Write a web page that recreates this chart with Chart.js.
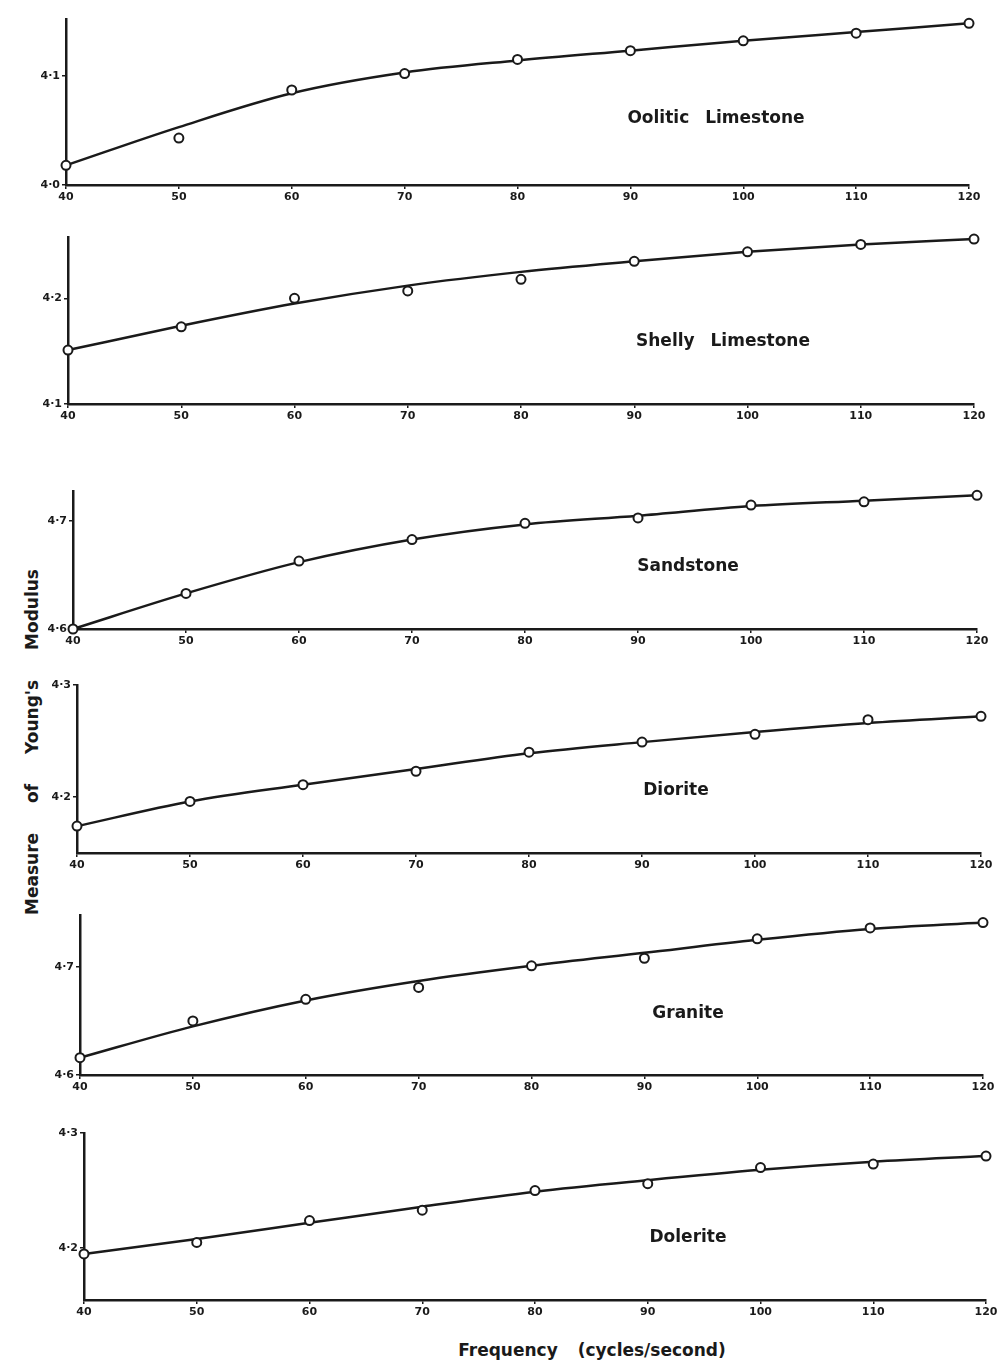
<html>
<head>
  <script src="https://cdn.jsdelivr.net/npm/chart.js"></script>
  <style>
    body { margin: 0; background: #fff; width: 1007px; height: 1368px; position: relative; overflow: hidden;
           font-family: 'DejaVu Sans', sans-serif; color: #1a1a1a; }
    canvas { position: absolute; left: 0; }
    .name { position: absolute; font-weight: bold; font-size: 17px; word-spacing: 10px;
            transform: translate(-50%, -50%); white-space: nowrap; }
    #ytitle { position: absolute; left: 32px; top: 742px; font-weight: bold; font-size: 17px; word-spacing: 24px;
              transform: translate(-50%, -50%) rotate(-90deg); white-space: nowrap; }
    #xtitle { position: absolute; left: 592px; top: 1350px; font-weight: bold; font-size: 17px; word-spacing: 14px;
              transform: translate(-50%, -50%); white-space: nowrap; }
  </style>
</head>
<body>
  <div id="ytitle">Measure of Young's Modulus</div>
  <div id="xtitle">Frequency (cycles/second)</div>
  <script>
    // frequency (cycles/second)
    const freq = [40, 50, 60, 70, 80, 90, 100, 110, 120];
    const rocks = ['Oolitic Limestone', 'Shelly Limestone', 'Sandstone', 'Diorite', 'Granite', 'Dolerite'];

    // measured points and drawn curve, per rock
    const oolitic      = [4.018, 4.043, 4.087, 4.102, 4.115, 4.123, 4.132, 4.139, 4.148];
    const ooliticCurve = [4.018, 4.053, 4.084, 4.103, 4.114, 4.123, 4.132, 4.140, 4.148];
    const shelly       = [4.151, 4.173, 4.200, 4.207, 4.218, 4.235, 4.244, 4.251, 4.256];
    const shellyCurve  = [4.151, 4.174, 4.195, 4.212, 4.225, 4.235, 4.244, 4.251, 4.256];
    const sandstone    = [4.600, 4.633, 4.663, 4.683, 4.698, 4.703, 4.715, 4.718, 4.724];
    const sandCurve    = [4.600, 4.633, 4.662, 4.683, 4.697, 4.705, 4.714, 4.719, 4.724];
    const diorite      = [4.174, 4.196, 4.211, 4.223, 4.240, 4.249, 4.256, 4.269, 4.272];
    const dioriteCurve = [4.174, 4.196, 4.211, 4.225, 4.239, 4.249, 4.258, 4.266, 4.272];
    const granite      = [4.616, 4.650, 4.670, 4.681, 4.701, 4.708, 4.726, 4.736, 4.741];
    const graniteCurve = [4.616, 4.645, 4.669, 4.687, 4.701, 4.713, 4.725, 4.735, 4.741];
    const dolerite     = [4.195, 4.205, 4.224, 4.233, 4.250, 4.256, 4.270, 4.273, 4.280];
    const doleriteCurve= [4.195, 4.208, 4.222, 4.236, 4.249, 4.259, 4.268, 4.275, 4.280];

    const points = [oolitic, shelly, sandstone, diorite, granite, dolerite];
    const curves = [ooliticCurve, shellyCurve, sandCurve, dioriteCurve, graniteCurve, doleriteCurve];

    // y axis ranges and labelled ticks
    const yRanges = [[4.0, 4.152], [4.1, 4.258], [4.6, 4.728], [4.15, 4.30], [4.6, 4.748], [4.155, 4.30]];
    const yTicks  = [[4.0, 4.1], [4.1, 4.2], [4.6, 4.7], [4.2, 4.3], [4.6, 4.7], [4.2, 4.3]];

    // layout: plot box [left, right, top, bottom] and rock name centre, page pixels
    const boxes = [[66, 969, 19, 185], [68, 974, 237, 404], [73, 977, 491, 629],
                   [77, 981, 685, 853], [80, 983, 915, 1075], [84, 986, 1133, 1300]];
    const namePos = [[716, 117], [723, 340], [688, 565], [676, 789], [688, 1012], [688, 1236]];

    const ink = '#1a1a1a';
    const YW = 34, XH = 30, PAD = 10;
    const tickFont = { family: 'DejaVu Sans', size: 11, weight: 'bold' };

    rocks.forEach((rock, i) => {
      const b = boxes[i];
      const cv = document.createElement('canvas');
      const h = b[3] - b[2] + PAD + XH;
      cv.width = 1007; cv.height = h;
      cv.style.top = (b[2] - PAD) + 'px';
      document.body.appendChild(cv);

      const label = document.createElement('div');
      label.className = 'name';
      label.textContent = rock;
      label.style.left = namePos[i][0] + 'px';
      label.style.top = namePos[i][1] + 'px';
      document.body.appendChild(label);

      new Chart(cv, {
        type: 'line',
        data: {
          datasets: [
            {
              data: freq.map((f, k) => ({ x: f, y: points[i][k] })),
              showLine: false, pointRadius: 4.5, pointBorderWidth: 2,
              pointBackgroundColor: '#fff', pointBorderColor: ink, order: 0, clip: false
            },
            {
              data: freq.map((f, k) => ({ x: f, y: curves[i][k] })),
              borderColor: ink, borderWidth: 2.5, pointRadius: 0,
              cubicInterpolationMode: 'monotone', order: 1, clip: false
            }
          ]
        },
        options: {
          responsive: false,
          animation: false,
          layout: { padding: { left: b[0] - YW, right: 1007 - b[1], top: PAD, bottom: 0 } },
          plugins: { legend: { display: false }, tooltip: { enabled: false } },
          scales: {
            x: {
              type: 'linear', min: 40, max: 120,
              afterFit: s => { s.height = XH; },
              border: { color: ink, width: 2.5 },
              grid: { drawOnChartArea: false, color: ink, tickLength: 4, lineWidth: 1.5 },
              ticks: { stepSize: 10, color: ink, font: tickFont, padding: 2, maxRotation: 0 }
            },
            y: {
              min: yRanges[i][0], max: yRanges[i][1],
              afterFit: s => { s.width = YW; },
              afterBuildTicks: s => { s.ticks = yTicks[i].map(v => ({ value: v })); },
              border: { color: ink, width: 2.5 },
              grid: { drawOnChartArea: false, color: ink, tickLength: 4, lineWidth: 1.5 },
              ticks: { color: ink, font: tickFont, padding: 2,
                       callback: v => v.toFixed(1).replace('.', '·') }
            }
          }
        }
      });
    });
  </script>
</body>
</html>
